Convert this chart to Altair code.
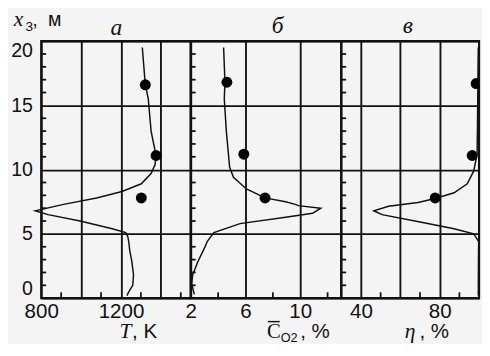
import altair as alt
import pandas as pd

# ---------------- data ----------------
x3_major = [0, 5, 10, 15, 20]
x3_minor = [1, 2, 3, 4, 6, 7, 8, 9, 11, 12, 13, 14, 16, 17, 18, 19]

# panel a: temperature T, K
t_curve_T = [1307, 1322, 1337, 1351, 1376, 1371, 1351, 1302, 1205, 1078, 912, 770,
             834, 995, 1156, 1224, 1234, 1239, 1244, 1254, 1263, 1259, 1239, 1230]
t_curve_x3 = [19.5, 16.6, 15.5, 13.0, 11.1, 10.4, 9.7, 8.9, 8.3, 7.8, 7.3, 6.8,
              6.5, 6.0, 5.4, 5.1, 4.8, 4.4, 3.7, 2.9, 1.8, 1.0, 0.5, 0.2]
t_dots_T = [1322, 1376, 1302]
t_dots_x3 = [16.6, 11.1, 7.8]
t_grid = [800, 1000, 1200, 1400]
t_labels = [800, 1200]
t_minor = [900, 1100, 1300, 1500]

# panel b: mean O2 concentration, %
c_curve_C = [4.4, 4.5, 4.45, 4.6, 4.84, 5.12, 6.07, 7.43, 8.93, 9.64, 9.86, 11.5,
             10.9, 8.93, 5.6, 3.69, 3.2, 2.98, 2.5, 2.14, 2.07, 2.26]
c_curve_x3 = [19.5, 16.8, 15.5, 13.0, 10.2, 9.4, 8.5, 7.8, 7.5, 7.3, 7.2, 7.0,
              6.6, 6.3, 5.8, 5.1, 4.4, 3.85, 2.8, 1.8, 1.1, 0.3]
c_dots_C = [4.64, 5.88, 7.43]
c_dots_x3 = [16.8, 11.2, 7.8]
c_grid = [2, 6, 10]
c_labels = [2, 6, 10]
c_minor = [4, 8, 12]

# panel v: efficiency eta, %
e_curve = [99.6, 99.4, 99.2, 99.0, 97.3, 94.0, 87.3, 77.7, 69.0, 54.0, 46.5, 50.7,
           70.7, 87.3, 97.3, 99.8, 99.7, 99.6]
e_curve_x3 = [19.5, 16.7, 13.5, 11.2, 9.9, 8.9, 8.2, 7.75, 7.45, 7.15, 6.8, 6.5,
              5.9, 5.4, 5.0, 4.4, 3.0, 0.2]
e_dots = [98.5, 96.5, 77.7]
e_dots_x3 = [16.7, 11.1, 7.8]
e_grid = [40, 60, 80]
e_labels = [40, 80]
e_minor = [50, 70, 90]

panel_titles = ["а", "б", "в"]

H = 263
B = H + 41  # baseline of the bottom axis titles
INK = "#111111"
SANS = "Liberation Sans"
SERIF = "Liberation Serif"


def txt(s, x, y, size, font=SANS, style="normal", align="left"):
    return alt.Chart(pd.DataFrame({"k": [0]})).mark_text(
        text=s, font=font, fontStyle=style, fontSize=size, color=INK,
        align=align, baseline="alphabetic").encode(x=alt.value(x), y=alt.value(y))


def panel(cx, cy, dx, dy, dom, grid_vals, label_vals, minor_x, width,
          show_y, extra):
    xs = alt.Scale(domain=dom, nice=False, zero=False)
    ys = alt.Scale(domain=[0, 20], nice=False, zero=False)
    lab = "[" + ",".join(str(v) for v in label_vals) + "]"
    xaxis = alt.Axis(values=grid_vals, format="d",
                     labelExpr=f"indexof({lab}, datum.value) >= 0 ? datum.label : ''",
                     grid=True, ticks=False, domain=False, title=None,
                     labelFontSize=21, labelPadding=3, labelFlush=False)
    yaxis = alt.Axis(values=x3_major, grid=True, ticks=False, domain=False, title=None,
                     labels=show_y, labelFontSize=20, labelPadding=9, labelFlush=True)
    curve_df = pd.DataFrame({"v": cx, "h": cy, "i": list(range(len(cx)))})
    dots_df = pd.DataFrame({"v": dx, "h": dy})
    curve = alt.Chart(curve_df).mark_line(color=INK, strokeWidth=1.5, clip=False).encode(
        x=alt.X("v:Q", scale=xs, axis=xaxis),
        y=alt.Y("h:Q", scale=ys, axis=yaxis),
        order="i:Q")
    dots = alt.Chart(dots_df).mark_circle(size=125, color="#000", opacity=1, clip=True).encode(
        x="v:Q", y="h:Q")
    ytick = alt.Chart(pd.DataFrame({"h": x3_minor})).mark_rule(color=INK, strokeWidth=1.8).encode(
        y="h:Q", x=alt.value(0), x2=alt.value(5))
    xtick = alt.Chart(pd.DataFrame({"v": minor_x})).mark_rule(color=INK, strokeWidth=1.8).encode(
        x="v:Q", y=alt.value(H), y2=alt.value(H - 6))
    return alt.layer(curve, dots, ytick, xtick, *extra).properties(width=width, height=H)


extra_a = [
    txt(panel_titles[0], 77, -6, 24, SERIF, "italic", "center"),
    txt("x", -28, -15, 22, SERIF, "italic"),
    txt("3", -16, -10, 14),
    txt(",", -9, -15, 19),
    txt("м", 7, -15, 20),
    txt("T", 80, B, 22, SERIF, "italic"),
    txt(", K", 93, B, 21),
]
extra_b = [
    txt(panel_titles[1], 89, -8, 24, SERIF, "italic", "center"),
    txt("C", 78, B, 21, SERIF),
    alt.Chart(pd.DataFrame({"k": [0]})).mark_rule(color=INK, strokeWidth=1.5).encode(
        x=alt.value(79), x2=alt.value(91), y=alt.value(B - 17)),
    txt("O2", 92, B + 4, 13),
    txt(", %", 112, B, 21),
]
extra_c = [
    txt(panel_titles[2], 68, -8, 24, SERIF, "italic", "center"),
    txt("η", 65, B, 22, SERIF, "italic"),
    txt(", %", 80, B, 21),
]

pa = panel(t_curve_T, t_curve_x3, t_dots_T, t_dots_x3, [800, 1550], t_grid, t_labels,
           t_minor, 153, True, extra_a)
pb = panel(c_curve_C, c_curve_x3, c_dots_C, c_dots_x3, [2, 13], c_grid, c_labels,
           c_minor, 154, False, extra_b)
pc = panel(e_curve, e_curve_x3, e_dots, e_dots_x3, [30, 100], e_grid, e_labels,
           e_minor, 141, False, extra_c)

chart = alt.hconcat(pa, pb, pc, spacing=0, bounds="flush").properties(
    background="#f4f4f4",
    padding={"left": 1, "top": -5, "right": -1, "bottom": -7},
).configure_view(stroke=INK, strokeWidth=2.2).configure_axis(
    gridColor=INK, gridWidth=1.9, gridOpacity=1, labelColor=INK, labelFont=SANS
)

chart.save("out.html", embed_options={"renderer": "svg", "actions": False})
